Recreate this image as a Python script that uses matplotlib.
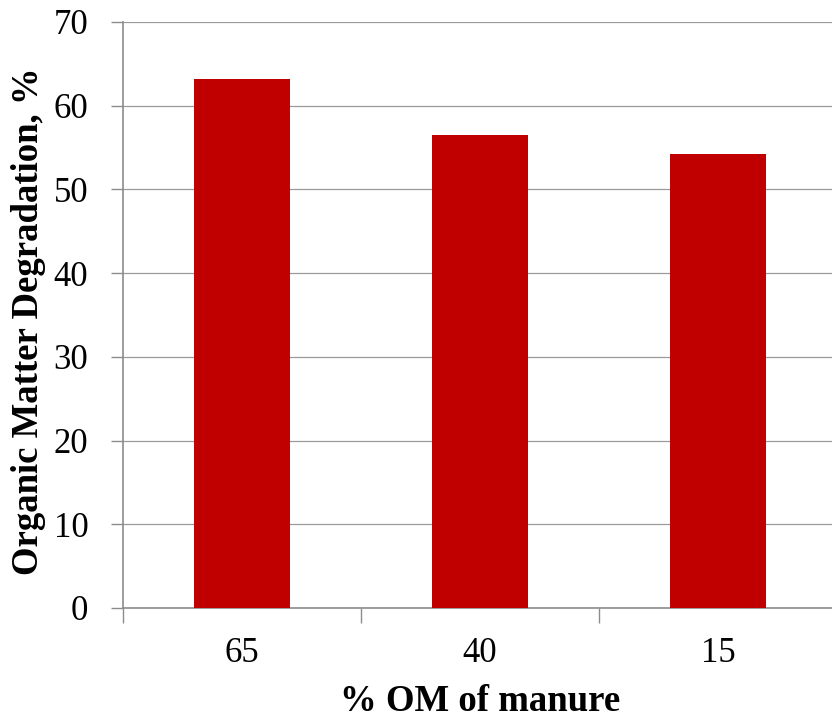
import matplotlib.pyplot as plt
import numpy as np

categories = ["65", "40", "15"]
degradation = [63.2, 56.5, 54.2]
y_ticks = [0, 10, 20, 30, 40, 50, 60, 70]

plt.rcParams["font.family"] = ["Liberation Serif", "DejaVu Serif"]

fig = plt.figure(figsize=(8.32, 7.19), dpi=100)
ax = fig.add_axes([123 / 832, 111 / 719, 714 / 832, 586 / 719])

x = np.arange(len(categories)) + 0.5
ax.bar(x, degradation, width=0.4, color="#C00000", zorder=3)

ax.set_xlim(0, len(categories))
ax.set_ylim(0, 70)
ax.set_yticks(y_ticks)
ax.tick_params(axis="y", labelsize=25, length=9, width=1, color="#8c8c8c",
               pad=16, direction="out")

# category boundaries get the tick marks, centres get the labels
ax.set_xticks(np.arange(len(categories) + 1))
ax.set_xticklabels([])
ax.set_xticks(x, minor=True)
ax.set_xticklabels(categories, minor=True)
ax.tick_params(axis="x", which="major", length=11, width=1, color="#8c8c8c")
ax.tick_params(axis="x", which="minor", length=0, labelsize=25, pad=21)

ax.yaxis.grid(True, color="#9a9a9a", linewidth=0.9, zorder=0)
ax.set_axisbelow(True)

for side in ["top", "right"]:
    ax.spines[side].set_visible(False)
for side in ["left", "bottom"]:
    ax.spines[side].set_color("#8c8c8c")
    ax.spines[side].set_linewidth(1.2)

ax.set_xlabel("% OM of manure", fontsize=26.5, fontweight="bold", labelpad=10)
ax.set_ylabel("Organic Matter Degradation, %", fontsize=26.5, fontweight="bold")
ax.yaxis.set_label_coords(-0.108, 0.49)

fig.savefig("out.png", dpi=100)
